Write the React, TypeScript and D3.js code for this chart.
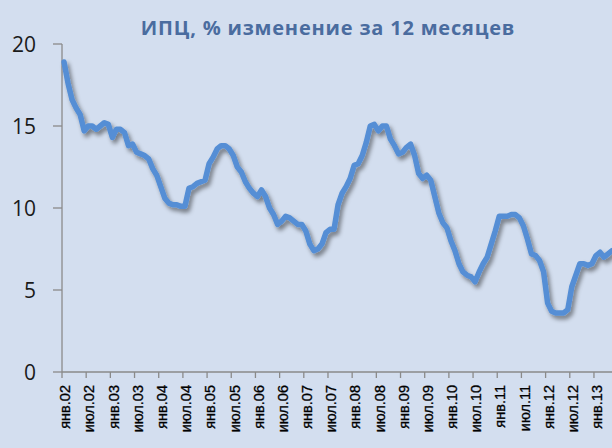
import React from "react";
import * as d3 from "d3";

const title = "ИПЦ, % изменение за 12 месяцев";

// Monthly CPI y/y, % — from янв.02
const cpi: number[] = [
  18.9, 17.6, 16.6, 16.1, 15.7, 14.7, 15.0, 15.0, 14.8, 15.0, 15.2, 15.1,
  14.3, 14.8, 14.8, 14.6, 13.8, 13.9, 13.4, 13.3, 13.2, 13.0, 12.4, 12.0,
  11.3, 10.6, 10.3, 10.2, 10.2, 10.1, 10.1, 11.2, 11.3, 11.5, 11.6, 11.7,
  12.7, 13.1, 13.6, 13.8, 13.8, 13.6, 13.2, 12.5, 12.2, 11.6, 11.2, 10.9,
  10.7, 11.1, 10.7, 10.0, 9.6, 9.0, 9.2, 9.5, 9.4, 9.2, 9.0, 9.0,
  8.6, 7.8, 7.4, 7.5, 7.8, 8.5, 8.7, 8.7, 10.2, 10.9, 11.3, 11.8,
  12.6, 12.7, 13.2, 14.0, 15.0, 15.1, 14.7, 15.0, 15.0, 14.2, 13.8, 13.3,
  13.4, 13.7, 13.9, 13.2, 12.1, 11.8, 12.0, 11.7, 10.7, 9.7, 9.1, 8.8,
  8.0, 7.4, 6.6, 6.1, 5.9, 5.8, 5.5, 6.1, 6.6, 7.0, 7.8, 8.6,
  9.5, 9.5, 9.5, 9.6, 9.6, 9.4, 8.9, 8.1, 7.2, 7.1, 6.8, 6.1,
  4.2, 3.7, 3.6, 3.6, 3.6, 3.8, 5.2, 5.9, 6.6, 6.6, 6.5, 6.6,
  7.1, 7.3, 7.0, 7.2, 7.4,
];

const xLabels: string[] = [
  "янв.02", "июл.02", "янв.03", "июл.03", "янв.04", "июл.04", "янв.05", "июл.05",
  "янв.06", "июл.06", "янв.07", "июл.07", "янв.08", "июл.08", "янв.09", "июл.09",
  "янв.10", "июл.10", "янв.11", "июл.11", "янв.12", "июл.12", "янв.13",
];
const labelStep = 6;
const yTicks: number[] = [0, 5, 10, 15, 20];
const totalMonths = 138;

export default function App() {
  const W = 612;
  const H = 448;
  const left = 62;
  const monthW = 4.03;
  const x = d3.scaleLinear().domain([0, totalMonths]).range([left, left + monthW * totalMonths]);
  const y = d3.scaleLinear().domain([0, 20]).range([372, 44]);
  const line = d3
    .line<number>()
    .x((_, i) => x(i + 0.5))
    .y((d) => y(d))
    .curve(d3.curveLinear);
  const axisColor = "#8a8a8a";
  const tickBoundaries = d3.range(0, totalMonths + 1, labelStep);

  return (
    <svg
      width={W}
      height={H}
      style={{ position: "absolute", left: 0, top: 0, display: "block" }}
    >
      <defs>
        <filter id="shadow" x="-10%" y="-10%" width="120%" height="120%">
          <feDropShadow dx="2.5" dy="3.5" stdDeviation="2" floodColor="#000" floodOpacity="0.45" />
        </filter>
      </defs>
      <rect x={0} y={0} width={W} height={H} fill="#d3deef" />
      <text
        x={328}
        y={35}
        textAnchor="middle"
        fontFamily="'Open Sans', sans-serif"
        fontWeight={700}
        fontSize={20}
        letterSpacing={0.8}
        fill="#4a6c9f"
      >
        {title}
      </text>
      {/* y axis */}
      <line x1={left} x2={left} y1={y(20)} y2={y(0)} stroke={axisColor} strokeWidth={1.3} />
      {yTicks.map((t) => (
        <g key={t}>
          <line x1={left - 9} x2={left} y1={y(t)} y2={y(t)} stroke={axisColor} strokeWidth={1.3} />
          <text
            x={36}
            y={y(t)}
            dy="0.36em"
            textAnchor="end"
            fontFamily="'Open Sans', sans-serif"
            fontSize={21}
            fill="#1a1a1a"
          >
            {t}
          </text>
        </g>
      ))}
      {/* x axis */}
      <line x1={left} x2={W} y1={y(0)} y2={y(0)} stroke={axisColor} strokeWidth={1.3} />
      {tickBoundaries.map((b) => (
        <line key={b} x1={x(b)} x2={x(b)} y1={y(0)} y2={y(0) + 6} stroke={axisColor} strokeWidth={1.3} />
      ))}
      {xLabels.map((lab, k) => {
        const cx = x(k * labelStep + 0.5) + 1;
        const ty = 385;
        return (
          <text
            key={lab}
            transform={`translate(${cx},${ty}) rotate(-90)`}
            textAnchor="end"
            dy="0.36em"
            fontFamily="'Liberation Sans', Arial, sans-serif"
            fontSize={14.5}
            stroke="#000"
            strokeWidth={0.3}
            fill="#000"
          >
            {lab}
          </text>
        );
      })}
      <path
        d={line(cpi) || ""}
        fill="none"
        stroke="#558ed5"
        strokeWidth={5.5}
        strokeLinejoin="round"
        strokeLinecap="round"
        filter="url(#shadow)"
      />
    </svg>
  );
}
